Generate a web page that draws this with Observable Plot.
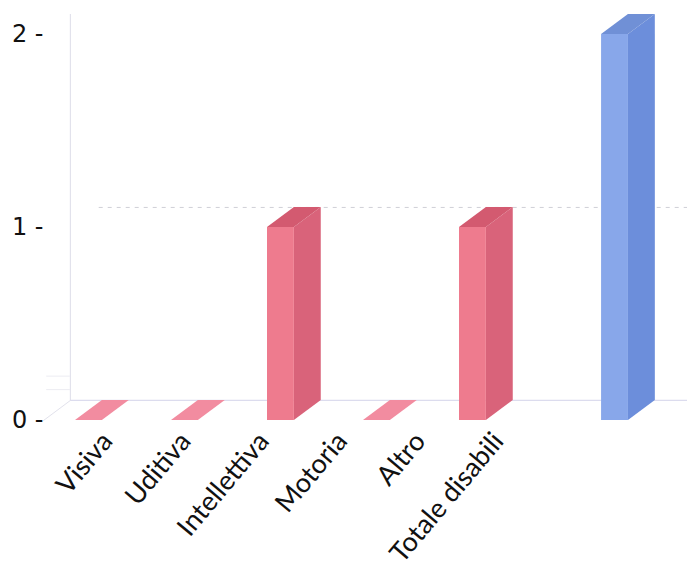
<!DOCTYPE html>
<html>
<head>
<meta charset="utf-8">
<script src="https://cdn.jsdelivr.net/npm/d3@7"></script>
<script src="https://cdn.jsdelivr.net/npm/@observablehq/plot@0.6"></script>
<style>
  html, body { margin: 0; padding: 0; background: #ffffff; }
  #chart svg { display: block; }
</style>
</head>
<body>
<div id="chart"></div>
<script>
// ---- data ----
const categories = ["Visiva", "Uditiva", "Intellettiva", "Motoria", "Altro", "Totale disabili"];
const values = [0, 0, 1, 0, 1, 2];
const groups = ["tipo", "tipo", "tipo", "tipo", "tipo", "totale"];
const yTicks = [0, 1, 2];

// ---- 3D look (styling constants) ----
const W = 0.28;     // front face width (slot units)
const D = 0.28;     // depth offset in x (slot units)
const DY = 0.104;   // depth offset in y (value units)
const GAP_TOTAL = 0.48; // extra gap before the total bar
const colors = {
  tipo:   {front: "#ee7b8e", side: "#d9637a", top: "#d35a70", flat: "#f28ca0"},
  totale: {front: "#88a7ea", side: "#6c8edb", top: "#7090d6", flat: "#88a7ea"}
};

const rows = categories.map((c, i) => {
  const xl = i + (groups[i] === "totale" ? GAP_TOTAL : 0);
  return {cat: c, v: values[i], g: groups[i], xl, xr: xl + W, lx: 0.33 + 0.815 * i};
});

const sidePts = rows.filter(r => r.v > 0).flatMap(r => [
  {cat: r.cat, g: r.g, x: r.xr, y1: 0, y2: r.v},
  {cat: r.cat, g: r.g, x: r.xr + D, y1: DY, y2: r.v + DY}
]);
const topPts = rows.flatMap(r => [
  {cat: r.cat, g: r.g, v: r.v, y: r.v, x1: r.xl, x2: r.xr},
  {cat: r.cat, g: r.g, v: r.v, y: r.v + DY, x1: r.xl + D, x2: r.xr + D}
]);

const wallX = -0.333 + D;  // back wall left edge
const font = "Lato, 'Open Sans', sans-serif";

const chart = Plot.plot({
  width: 687,
  height: 567,
  marginLeft: 75,
  marginRight: 36,
  marginTop: 34,
  marginBottom: 147,
  style: {fontFamily: font, background: "#ffffff", color: "#111"},
  x: {type: "linear", domain: [0, 6], axis: null},
  y: {domain: [0, 2], axis: null},
  marks: [
    // back wall and floor
    Plot.ruleX([wallX], {y1: DY, y2: 2 + DY, stroke: "#e2e2ec", strokeWidth: 1.2}),
    Plot.ruleY([DY], {x1: wallX, x2: 6.7, stroke: "#dcdcee", strokeWidth: 1.2}),
    Plot.line([{x: -0.333, y: 0}, {x: wallX, y: DY}], {x: "x", y: "y", stroke: "#e2e2ec", strokeWidth: 1}),
    Plot.ruleY([1 + DY], {x1: wallX + 0.3, x2: 6.7, stroke: "#cfcfd6", strokeWidth: 1, strokeDasharray: "4,5"}),
    Plot.ruleY([0.16, 0.23], {x1: -0.3, x2: wallX, stroke: "#ececf2", strokeWidth: 1}),
    // side faces
    Plot.areaY(sidePts, {x: "x", y1: "y1", y2: "y2", z: "cat", fill: d => colors[d.g].side, curve: "linear"}),
    // top faces (flat parallelograms for zero values)
    Plot.areaX(topPts, {y: "y", x1: "x1", x2: "x2", z: "cat", fill: d => d.v > 0 ? colors[d.g].top : colors[d.g].flat, curve: "linear"}),
    // front faces
    Plot.rect(rows.filter(r => r.v > 0), {x1: "xl", x2: "xr", y1: 0, y2: "v", fill: d => colors[d.g].front}),
    // y axis
    Plot.axisY(yTicks, {tickSize: 0, tickPadding: 32, tickFormat: d => `${d} -`, fontSize: 24, fontFamily: "'DejaVu Sans', sans-serif", fill: "#111"}),
    // category labels
    Plot.text(rows, {x: "lx", y: 0, text: "cat", rotate: -50, textAnchor: "end", dy: 16, fontSize: 27, fill: "#111"})
  ]
});
document.getElementById("chart").appendChild(chart);
</script>
</body>
</html>
